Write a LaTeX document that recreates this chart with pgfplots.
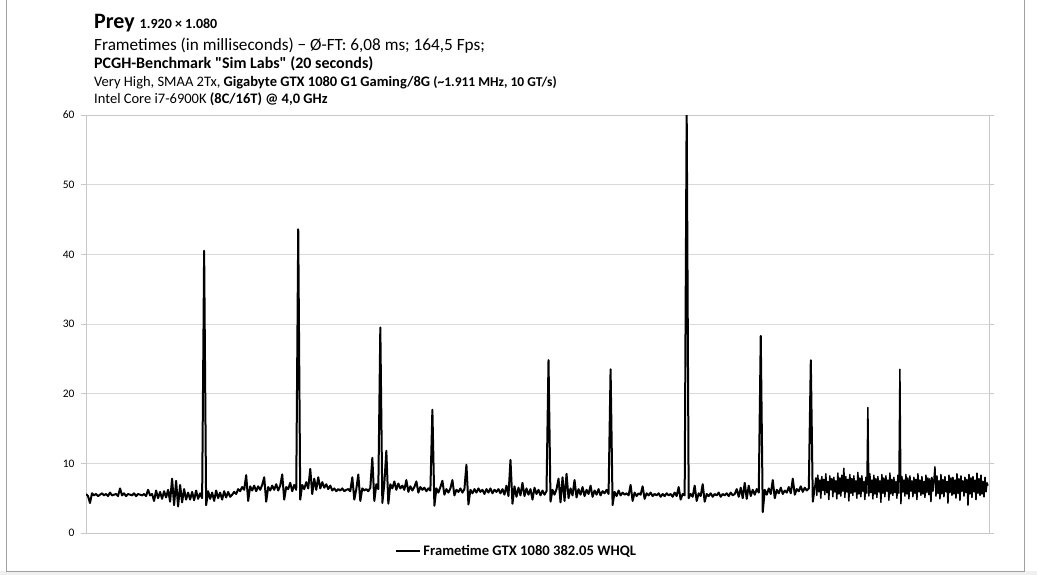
\documentclass[border=0pt]{standalone}
\usepackage{fontspec}
\setmainfont{Carlito}
\newfontfamily\straightfont{Carlito}[Ligatures=ResetAll]
\usepackage{pgfplots}
\usepackage{pgfplotstable}
\pgfplotsset{compat=1.18}

% frametimes in ms, one value per sample (about 7 frames each)
\pgfplotstableread[row sep=\\]{
ft\\
5.6\\5.3\\4.3\\5.7\\5.4\\5.6\\5.3\\5.5\\5.7\\5.4\\5.6\\5.3\\5.8\\5.4\\5.5\\5.6\\5.3\\6.4\\5.4\\5.7\\5.3\\5.6\\5.5\\5.4\\5.7\\5.3\\5.6\\5.5\\5.4\\5.6\\5.3\\6.2\\5.4\\
5.6\\4.6\\6.1\\5.0\\5.9\\4.9\\6.0\\5.1\\
6.2\\4.5\\7.8\\4.0\\7.5\\3.8\\6.9\\4.4\\6.3\\4.8\\
5.8\\4.8\\5.9\\4.7\\6.1\\4.9\\5.7\\5.0\\40.5\\4.0\\6.0\\4.9\\5.8\\4.6\\6.1\\5.0\\5.8\\4.8\\6.0\\5.1\\5.9\\5.2\\
5.5\\5.9\\5.6\\6.3\\6.0\\6.6\\
6.2\\8.3\\4.6\\6.7\\6.1\\6.8\\6.0\\6.7\\6.2\\6.9\\8.0\\4.5\\6.6\\6.1\\6.8\\6.2\\7.0\\6.1\\6.8\\8.4\\4.8\\6.6\\6.3\\7.2\\6.0\\6.9\\6.2\\
43.6\\4.8\\
6.9\\6.3\\7.3\\6.4\\9.2\\5.6\\7.8\\6.2\\8.0\\6.4\\7.3\\6.5\\7.0\\6.3\\6.8\\
6.1\\6.4\\6.0\\6.3\\6.1\\6.4\\6.0\\6.2\\6.3\\6.0\\8.0\\4.8\\6.3\\8.4\\4.6\\6.4\\6.1\\6.3\\6.0\\
6.5\\10.8\\4.6\\7.0\\6.3\\29.5\\4.3\\7.1\\11.8\\4.2\\7.0\\6.4\\7.4\\6.2\\7.1\\6.4\\
6.8\\6.2\\7.6\\5.9\\6.7\\6.1\\6.6\\7.4\\5.8\\6.6\\6.2\\6.5\\6.0\\6.4\\6.1\\
17.7\\3.9\\
6.4\\5.8\\6.6\\7.5\\5.5\\6.3\\5.8\\6.4\\7.6\\5.4\\6.2\\5.9\\6.4\\5.8\\6.3\\9.8\\4.1\\6.2\\5.7\\6.3\\5.8\\6.4\\5.9\\6.2\\5.6\\6.3\\5.8\\6.4\\5.7\\6.2\\5.9\\6.3\\5.7\\
6.3\\5.5\\6.8\\5.3\\10.5\\4.2\\6.7\\5.2\\6.5\\5.4\\7.2\\5.3\\6.4\\5.5\\6.3\\4.8\\6.5\\5.6\\6.2\\5.4\\6.1\\5.5\\
6.0\\24.8\\4.5\\
6.2\\5.5\\6.3\\7.8\\4.4\\8.0\\4.6\\8.5\\5.0\\6.4\\5.4\\7.6\\5.1\\6.3\\5.5\\6.6\\5.3\\6.2\\5.6\\6.8\\5.2\\6.1\\5.5\\6.3\\5.4\\6.0\\5.7\\6.2\\5.6\\
23.5\\4.0\\
5.9\\5.3\\6.1\\5.4\\5.8\\5.5\\5.7\\5.4\\6.9\\4.6\\5.8\\5.3\\5.7\\5.5\\6.7\\4.9\\5.7\\5.4\\5.8\\5.3\\5.6\\5.4\\5.7\\5.2\\5.6\\5.3\\5.7\\5.4\\5.6\\5.2\\5.8\\5.3\\6.6\\4.8\\5.6\\
5.4\\61\\5.0\\
5.6\\5.2\\6.8\\4.6\\5.7\\5.3\\7.0\\4.5\\5.6\\5.3\\5.7\\5.2\\5.6\\5.4\\5.8\\5.2\\5.6\\5.4\\5.7\\5.3\\5.8\\5.4\\5.6\\6.3\\5.2\\6.5\\5.0\\7.2\\4.9\\6.8\\5.3\\6.2\\5.5\\6.3\\
5.8\\28.3\\3.0\\
6.2\\5.5\\6.4\\5.6\\7.6\\5.0\\6.2\\5.7\\6.5\\5.6\\6.1\\5.8\\6.6\\5.7\\7.8\\5.5\\6.3\\6.0\\6.7\\5.9\\6.5\\6.1\\
6.4\\24.8\\4.5\\
6.6\\
}\frametimes

% last stretch, noisier: sampled twice as densely (starts at sample 364)
\pgfplotstableread[row sep=\\]{
ft\\
6.6\\7.9\\5.4\\8.3\\5.9\\7.6\\5.0\\8.1\\6.1\\7.7\\
5.5\\8.5\\5.8\\7.4\\4.8\\8.2\\6.2\\7.8\\5.2\\8.0\\
5.9\\7.5\\4.9\\8.6\\5.6\\7.9\\5.3\\8.3\\6.0\\9.3\\
5.1\\8.1\\5.9\\7.7\\4.6\\8.4\\5.7\\7.8\\5.4\\8.2\\
5.9\\7.5\\5.0\\8.7\\5.6\\7.9\\5.2\\8.2\\6.0\\7.4\\
4.8\\8.0\\5.7\\18.0\\5.3\\8.5\\5.8\\7.6\\4.9\\8.3\\
5.6\\7.8\\5.1\\8.1\\5.9\\7.5\\4.4\\8.4\\5.7\\7.9\\
5.2\\8.2\\6.0\\7.6\\4.7\\8.6\\5.6\\7.7\\5.4\\8.0\\
5.8\\7.4\\5.0\\8.3\\5.7\\23.5\\4.2\\8.1\\5.9\\7.6\\
5.3\\8.4\\5.6\\7.9\\4.9\\8.2\\6.0\\7.5\\5.2\\8.0\\
5.7\\7.7\\4.8\\8.5\\5.9\\7.6\\5.4\\8.1\\5.6\\7.4\\
5.1\\8.3\\5.8\\7.9\\5.5\\7.8\\4.5\\8.0\\6.0\\7.6\\
9.5\\5.3\\8.2\\5.7\\7.5\\4.9\\8.4\\5.6\\7.7\\5.2\\
8.1\\5.9\\7.4\\4.3\\8.3\\5.8\\7.9\\5.4\\8.0\\5.6\\
7.6\\5.0\\8.5\\5.7\\7.8\\4.7\\8.2\\6.0\\7.5\\5.3\\
8.0\\5.8\\7.7\\4.0\\8.4\\5.6\\7.9\\5.1\\8.1\\5.9\\
7.6\\4.8\\8.6\\5.7\\7.8\\5.4\\8.3\\5.6\\7.4\\5.2\\
8.0\\5.9\\7.2\\6.8\\
}\frametimestail

\definecolor{framegray}{HTML}{A0A0A0}
\definecolor{axisgray}{HTML}{C8C8C8}
\definecolor{gridgray}{HTML}{D9D9D9}
\definecolor{bottomgray}{HTML}{F0F0F0}

\begin{document}
\begin{tikzpicture}
\useasboundingbox (0pt,0pt) rectangle (1037pt,-575pt);
\fill[white] (0pt,0pt) rectangle (1037pt,-575pt);
\fill[bottomgray] (0pt,-571pt) rectangle (1037pt,-575pt);
\draw[framegray, line width=1pt] (6pt,0pt) -- (6pt,-571pt) -- (1024pt,-571pt) -- (1024pt,0pt);

\node[anchor=base west, inner sep=0pt] at (94pt,-29pt)
  {\fontsize{22}{24}\selectfont\bfseries Prey \fontsize{14}{16}\selectfont 1.920 × 1.080};
\node[anchor=base west, inner sep=0pt] at (94pt,-51pt)
  {\fontsize{17.2}{19}\selectfont Frametimes (in milliseconds) − Ø-FT: 6,08 ms; 164,5 Fps;};
\node[anchor=base west, inner sep=0pt] at (94pt,-69pt)
  {\fontsize{16}{18}\selectfont\bfseries PCGH-Benchmark {\straightfont"}Sim Labs{\straightfont"} (20 seconds)};
\node[anchor=base west, inner sep=0pt] at (94pt,-87pt)
  {\fontsize{14.5}{17}\selectfont Very High, SMAA 2Tx, \textbf{Gigabyte GTX 1080 G1 Gaming/8G} {\fontsize{13.5}{15}\selectfont\bfseries (\textasciitilde 1.911 MHz, 10 GT/s)}};
\node[anchor=base west, inner sep=0pt] at (94pt,-104pt)
  {\fontsize{14.5}{17}\selectfont Intel Core i7-6900K \textbf{(8C/16T) @ 4,0 GHz}};

\begin{axis}[
    at={(86pt,-533pt)}, anchor=south west,
    scale only axis,
    width=903pt, height=418pt,
    xmin=0, xmax=451,
    ymin=0, ymax=60,
    xtick=\empty,
    ytick={0,10,...,60},
    ymajorgrids,
    grid style={gridgray, line width=1pt},
    axis line style={axisgray, line width=1pt},
    tick style={axisgray, line width=1pt},
    tick align=outside,
    major tick length=5pt,
    yticklabel style={font=\fontsize{11.5}{13}\selectfont, xshift=-3pt},
    /pgf/number format/assume math mode=true,
    legend style={at={(axis description cs:0.477,-0.043)}, anchor=center,
      draw=none, fill=none, font=\fontsize{14.6}{16}\selectfont\bfseries,
      inner sep=0pt},
    legend image code/.code={\draw[#1] (0pt,0pt) -- (24pt,0pt);},
  ]
  \addplot[black, line width=2pt, line join=round] table[x expr=\coordindex, y=ft] {\frametimes};
  \addlegendentry{Frametime GTX 1080 382.05 WHQL}
  \addplot[black, line width=1.5pt, line join=round, forget plot] table[x expr=364+0.5*\coordindex, y=ft] {\frametimestail};
\end{axis}
\end{tikzpicture}
\end{document}
